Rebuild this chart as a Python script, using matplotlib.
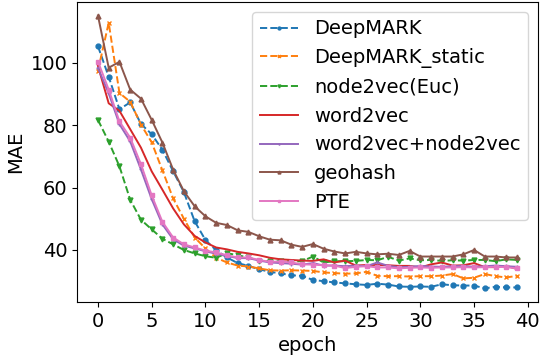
import matplotlib
matplotlib.use("Agg")
import matplotlib.pyplot as plt
import numpy as np

epochs = list(range(40))

deepmark = [105.3, 95.5, 85.1, 87.3, 80.4, 77.1, 72.1, 65.2, 58.5, 49.2,
            43.2, 39.9, 37.6, 35.8, 34.9, 33.8, 33.0, 32.5, 31.9, 31.7,
            30.4, 30.0, 29.6, 29.3, 29.0, 28.8, 29.2, 28.9, 28.3, 28.2,
            28.3, 28.2, 29.0, 28.7, 28.6, 28.6, 27.7, 28.2, 28.0, 28.0]
deepmark_static = [97.5, 112.8, 90.3, 87.5, 80.2, 74.5, 65.5, 56.5, 50.0, 44.0,
                   40.5, 37.5, 36.0, 35.0, 34.7, 34.1, 33.5, 33.4, 33.5, 33.4,
                   33.3, 32.8, 32.6, 32.4, 32.5, 33.0, 31.7, 31.6, 31.6, 31.5,
                   31.6, 31.6, 31.8, 32.3, 30.9, 31.1, 32.3, 31.6, 31.2, 31.7]
node2vec_euc = [81.7, 74.7, 66.8, 56.1, 49.7, 46.6, 43.6, 41.8, 40.0, 38.9,
                38.0, 37.5, 39.0, 38.3, 37.6, 36.5, 36.4, 36.4, 36.3, 36.4,
                37.9, 36.0, 36.4, 36.4, 36.5, 36.8, 36.7, 37.8, 36.6, 37.3,
                36.7, 36.8, 36.5, 36.7, 36.6, 36.8, 36.8, 36.4, 37.0, 36.8]
word2vec = [99.0, 87.0, 84.6, 78.7, 72.8, 65.2, 59.3, 53.3, 48.2, 44.5,
            42.4, 40.8, 40.2, 39.4, 38.9, 38.3, 37.5, 37.0, 36.8, 36.6,
            36.5, 37.0, 36.0, 36.6, 35.0, 35.2, 35.2, 35.1, 34.9, 34.9,
            34.4, 35.4, 36.0, 35.0, 35.1, 35.8, 34.5, 34.5, 34.9, 33.9]
w2v_n2v = [98.3, 90.2, 80.3, 74.8, 65.8, 56.3, 48.2, 43.4, 41.4, 40.5,
           39.6, 38.8, 38.1, 37.4, 37.4, 36.6, 36.0, 35.8, 35.6, 35.3,
           35.8, 35.0, 35.0, 34.8, 35.0, 34.8, 36.0, 34.9, 34.5, 34.6,
           34.9, 34.7, 34.6, 34.8, 34.9, 34.6, 34.8, 35.0, 34.8, 34.6]
geohash = [115.1, 98.4, 100.3, 91.4, 88.5, 81.7, 74.4, 65.7, 58.8, 54.0,
           50.8, 48.7, 48.0, 46.3, 45.8, 44.4, 43.3, 43.1, 41.7, 41.0,
           41.9, 40.4, 39.5, 38.9, 39.4, 38.9, 38.6, 38.8, 38.4, 39.7,
           37.9, 37.9, 37.9, 37.9, 38.6, 40.0, 37.9, 37.9, 37.6, 37.6]
pte = [100.4, 91.4, 81.2, 76.0, 67.5, 57.5, 49.0, 44.0, 41.8, 40.8,
       39.8, 39.2, 38.3, 37.6, 37.6, 36.8, 36.2, 36.3, 36.0, 35.4,
       35.3, 35.1, 35.0, 34.2, 34.6, 34.8, 34.4, 34.4, 34.1, 34.3,
       34.4, 34.3, 34.4, 34.4, 34.5, 34.4, 34.5, 34.6, 34.5, 34.1]

series = [
    ("DeepMARK", deepmark, "C0", "--", "o"),
    ("DeepMARK_static", deepmark_static, "C1", "--", "x"),
    ("node2vec(Euc)", node2vec_euc, "C2", "--", "v"),
    ("word2vec", word2vec, "C3", "-", None),
    ("word2vec+node2vec", w2v_n2v, "C4", "-", "+"),
    ("geohash", geohash, "C5", "-", "^"),
    ("PTE", pte, "C6", "-", "s"),
]

plt.rcParams['font.family'] = ['DejaVu Sans']
fig = plt.figure(figsize=(5.41, 3.6), dpi=100)
ax = fig.add_axes([77 / 541, 1 - 302 / 360, (538 - 77) / 541, 300 / 360])

for label, vals, color, ls, mk in series:
    ax.plot(epochs, vals, color=color, linestyle=ls, marker=mk,
            markersize=3.5, linewidth=1.4, label=label)

fs = 14
ax.set_xlabel("epoch", fontsize=fs)
ax.set_ylabel("MAE", fontsize=fs)
ax.set_xticks([0, 5, 10, 15, 20, 25, 30, 35, 40])
ax.set_yticks([40, 60, 80, 100])
ax.tick_params(labelsize=fs)
ax.legend(loc="upper right", fontsize=fs, handlelength=2, labelspacing=0.5,
          borderpad=0.4, markerscale=0.6)

fig.savefig("out.png", dpi=100)
